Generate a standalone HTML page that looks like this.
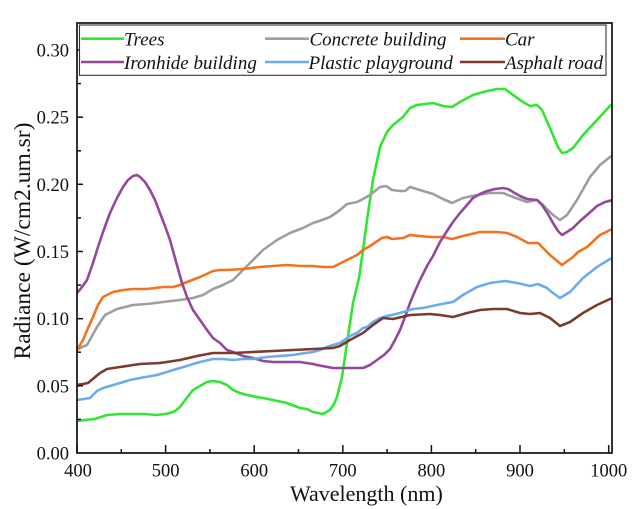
<!DOCTYPE html>
<html>
<head>
<meta charset="utf-8">
<style>
html,body{margin:0;padding:0;background:#fff;}
svg{display:block;}
text{font-family:"Liberation Serif","Times New Roman",serif;fill:#111;}
</style>
</head>
<body>
<svg width="639" height="509" viewBox="0 0 639 509" xmlns="http://www.w3.org/2000/svg">
<rect width="639" height="509" fill="#fff"/>
<defs><clipPath id="pc"><rect x="77" y="23" width="535" height="430"/></clipPath></defs>
<g clip-path="url(#pc)" fill="none" stroke-width="2.6" stroke-linejoin="round" stroke-linecap="round">
<polyline stroke="#31e631" points="77,421 85,420 95,419 107,415 120,414 133,414 145,414 157,415 165,414 170,413 175,411 180,407 186,399 193,390 200,386 207,382 213,381 220,382 227,385 233,390 240,393 247,395 257,397 263,398 273,400 287,403 300,408 307,409 313,412 323,414 330,410 334,404 337,397 342,377 347,343 353,303 359,278 363,250 367,220 373,180 380,147 387,132 393,125 403,117 410,108 417,105 425,104 433,103 443,106 452,107 460,102 473,95 487,91 497,89 505,89 513,95 523,102 530,106 537,105 542,110 550,128 558,147 562,153 567,152 573,148 583,135 597,120 610,106 613,104"/>
<polyline stroke="#9e9e9e" points="77,350 82,347 87,345 92,336 97,327 105,315 117,309 133,305 147,304 163,302 180,300 193,298 203,295 213,289 223,285 233,280 240,273 247,266 254,259 263,250 270,245 277,240 290,233 303,228 313,223 322,220 330,217 340,210 347,204 357,202 363,199 370,195 380,187 386,186 392,190 400,191 405,191 410,187 420,190 433,194 443,199 452,203 463,198 477,195 490,193 503,193 513,197 527,202 537,200 542,204 553,215 560,220 567,215 577,200 590,177 600,165 610,157 613,155"/>
<polyline stroke="#f3711f" points="77,350 83,340 88,328 93,317 98,305 103,297 113,292 123,290 133,289 147,289 163,287 173,287 180,285 187,282 200,277 213,271 220,270 227,270 243,269 260,267 273,266 287,265 300,266 313,266 323,267 333,267 343,262 357,255 363,250 370,246 382,238 387,237 392,239 403,238 410,235 420,236 430,237 443,237 452,239 463,236 480,232 497,232 507,233 517,237 528,243 538,243 547,252 550,255 562,265 573,257 578,252 587,247 600,235 610,230 613,229"/>
<polyline stroke="#95479b" points="77,293 82,287 87,280 93,263 97,250 103,232 110,213 117,198 123,187 128,180 133,176 137,175 140,177 145,182 150,190 155,200 160,213 165,226 170,240 175,258 182,283 187,297 193,310 200,320 207,330 213,338 220,343 227,350 233,352 243,356 253,358 263,361 273,362 293,362 300,362 313,364 317,365 333,368 347,368 363,368 370,365 377,360 384,355 390,349 395,340 400,330 405,317 410,303 415,291 420,280 427,266 433,256 440,242 447,231 453,222 460,213 467,205 473,198 480,194 487,191 495,189 503,188 508,189 513,192 520,196 527,199 537,200 542,205 548,214 553,223 558,231 562,235 567,232 573,228 580,221 587,215 597,206 605,202 613,200"/>
<polyline stroke="#6aacf0" points="77,400 84,399 90,398 97,391 103,388 110,386 120,383 130,380 140,378 157,375 170,371 180,368 190,365 200,362 213,359 223,359 233,360 243,359 253,359 267,357 280,356 293,355 305,353 313,352 320,350 327,347 333,345 340,343 350,336 357,333 363,328 367,327 373,322 380,318 387,316 400,313 413,309 423,308 437,305 447,303 453,302 463,295 477,287 490,283 505,281 517,283 530,286 538,284 547,288 553,293 560,298 570,292 583,278 597,267 610,259 613,258"/>
<polyline stroke="#7b3b2c" points="77,385 83,384 88,383 94,378 100,373 107,369 120,367 140,364 160,363 180,360 197,356 213,353 233,353 253,352 273,351 293,350 313,349 333,348 340,346 350,340 363,333 373,325 383,318 393,319 410,315 430,314 440,315 453,317 467,313 480,310 493,309 507,309 520,313 530,314 540,313 550,318 560,326 570,322 583,313 597,305 610,299 613,298"/>
</g>
<!-- frame -->
<rect x="77" y="23" width="535" height="430" fill="none" stroke="#111" stroke-width="1.7"/>
<!-- x ticks -->
<g stroke="#111" stroke-width="1.5">
<line x1="77" y1="453" x2="77" y2="445"/>
<line x1="121.3" y1="453" x2="121.3" y2="449"/>
<line x1="165.6" y1="453" x2="165.6" y2="445"/>
<line x1="209.9" y1="453" x2="209.9" y2="449"/>
<line x1="254.2" y1="453" x2="254.2" y2="445"/>
<line x1="298.5" y1="453" x2="298.5" y2="449"/>
<line x1="342.8" y1="453" x2="342.8" y2="445"/>
<line x1="387.1" y1="453" x2="387.1" y2="449"/>
<line x1="431.4" y1="453" x2="431.4" y2="445"/>
<line x1="475.7" y1="453" x2="475.7" y2="449"/>
<line x1="520" y1="453" x2="520" y2="445"/>
<line x1="564.3" y1="453" x2="564.3" y2="449"/>
<line x1="608.7" y1="453" x2="608.7" y2="445"/>
<!-- y ticks -->
<line x1="77" y1="385.8" x2="83" y2="385.8"/>
<line x1="77" y1="318.7" x2="83" y2="318.7"/>
<line x1="77" y1="251.5" x2="83" y2="251.5"/>
<line x1="77" y1="184.3" x2="83" y2="184.3"/>
<line x1="77" y1="117.2" x2="83" y2="117.2"/>
<line x1="77" y1="50" x2="83" y2="50"/>
<line x1="77" y1="419.4" x2="81" y2="419.4"/>
<line x1="77" y1="352.2" x2="81" y2="352.2"/>
<line x1="77" y1="285.1" x2="81" y2="285.1"/>
<line x1="77" y1="217.9" x2="81" y2="217.9"/>
<line x1="77" y1="150.8" x2="81" y2="150.8"/>
<line x1="77" y1="83.6" x2="81" y2="83.6"/>
</g>
<!-- y tick labels -->
<g font-size="18.5" text-anchor="end">
<text x="69" y="459.5">0.00</text>
<text x="69" y="392.3">0.05</text>
<text x="69" y="325.2">0.10</text>
<text x="69" y="258">0.15</text>
<text x="69" y="190.8">0.20</text>
<text x="69" y="123.7">0.25</text>
<text x="69" y="56.5">0.30</text>
</g>
<!-- x tick labels -->
<g font-size="18.5" text-anchor="middle">
<text x="78" y="476.5">400</text>
<text x="165.6" y="476.5">500</text>
<text x="254.2" y="476.5">600</text>
<text x="342.8" y="476.5">700</text>
<text x="431.4" y="476.5">800</text>
<text x="520" y="476.5">900</text>
<text x="608.7" y="476.5">1000</text>
</g>
<!-- axis titles -->
<text x="290" y="501" font-size="22">Wavelength (nm)</text>
<text x="30" y="241" font-size="23.5" text-anchor="middle" transform="rotate(-90 30 241)">Radiance (W/cm2.um.sr)</text>
<!-- legend -->
<rect x="79.5" y="25" width="526.5" height="50.3" fill="#fff" stroke="#333" stroke-width="1.1"/>
<g stroke-width="2.6" fill="none">
<line x1="81" y1="38.7" x2="124" y2="38.7" stroke="#31e631"/>
<line x1="81" y1="62" x2="124" y2="62" stroke="#95479b"/>
<line x1="265" y1="38.7" x2="309" y2="38.7" stroke="#9e9e9e"/>
<line x1="265" y1="62" x2="309" y2="62" stroke="#6aacf0"/>
<line x1="460" y1="38.7" x2="505" y2="38.7" stroke="#f3711f"/>
<line x1="460" y1="62" x2="505" y2="62" stroke="#7b3b2c"/>
</g>
<g font-size="19" font-style="italic">
<text x="124" y="45.5">Trees</text>
<text x="124" y="69">Ironhide building</text>
<text x="309.5" y="45.5">Concrete building</text>
<text x="308.5" y="69">Plastic playground</text>
<text x="505" y="45.5">Car</text>
<text x="505" y="69">Asphalt road</text>
</g>
</svg>
</body>
</html>
